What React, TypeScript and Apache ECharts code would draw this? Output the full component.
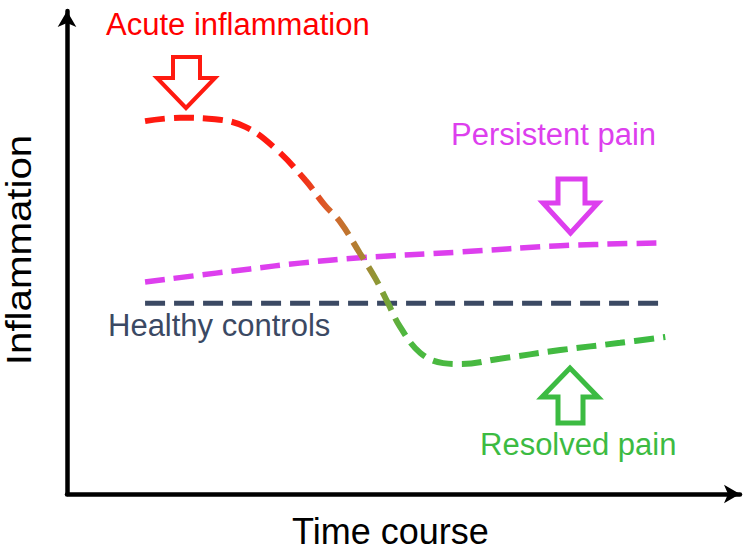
import React, { useEffect, useRef } from "react";
import * as echarts from "echarts";

// Time positions (0–100 scale) and inflammation levels (0–100 scale)
const acuteTime = [11.6, 16.8, 22.0, 26.5, 30.9, 35.4, 38.3, 40.6, 43.5, 45.8, 47.7, 49.5, 52.5, 55.9, 58.4, 64.3, 73.3, 82.2, 88.9];
const acuteLevel = [77.2, 77.9, 77.6, 76.0, 71.6, 65.0, 59.8, 56.3, 49.9, 44.7, 39.5, 34.6, 29.2, 27.1, 26.9, 28.0, 29.8, 31.3, 32.5];

const persistentTime = [11.6, 27.2, 34.6, 43.5, 58.4, 73.3, 88.9];
const persistentLevel = [43.9, 46.6, 47.8, 48.9, 50.1, 51.4, 52.0];

const healthyTime = [11.6, 88.9];
const healthyLevel = [39.5, 39.5];

const labels = {
  acute: "Acute inflammation",
  persistent: "Persistent pain",
  healthy: "Healthy controls",
  resolved: "Resolved pain",
  xName: "Time course",
  yName: "Inflammation",
};

const FONT = "'Liberation Sans', Arial, sans-serif";
const RED = "#ff1a10";
const PINK = "#dd3fee";
const SLATE = "#3b4963";
const GREEN = "#3cbb42";

const pair = (xs: number[], ys: number[]) => xs.map((x, i) => [x, ys[i]]);

export default function App() {
  const ref = useRef<HTMLDivElement>(null);
  useEffect(() => {
    if (!ref.current) return;
    const chart = echarts.init(ref.current, undefined, { renderer: "svg" });
    const dash = [20, 9];
    const arrowDown = (x0: number, x1: number, top: number, headTop: number, hx0: number, hx1: number, tipY: number) => [
      [x0, top], [x1, top], [x1, headTop], [hx1, headTop], [(hx0 + hx1) / 2, tipY], [hx0, headTop], [x0, headTop],
    ];
    const arrowUp = (x0: number, x1: number, bottom: number, headBot: number, hx0: number, hx1: number, tipY: number) => [
      [x0, bottom], [x1, bottom], [x1, headBot], [hx1, headBot], [(hx0 + hx1) / 2, tipY], [hx0, headBot], [x0, headBot],
    ];
    chart.setOption({
      animation: false,
      backgroundColor: "#ffffff",
      grid: { left: 67, right: 10, top: 11, bottom: 57 },
      xAxis: {
        type: "value", min: 0, max: 100,
        axisLine: { show: true, symbol: ["none", "arrow"], symbolSize: [14, 16], lineStyle: { color: "#000", width: 4.5 } },
        axisTick: { show: false }, axisLabel: { show: false }, splitLine: { show: false },
      },
      yAxis: {
        type: "value", min: 0, max: 100,
        axisLine: { show: true, symbol: ["none", "arrow"], symbolSize: [14, 16], lineStyle: { color: "#000", width: 4.5 } },
        axisTick: { show: false }, axisLabel: { show: false }, splitLine: { show: false },
      },
      series: [
        {
          type: "line", data: pair(healthyTime, healthyLevel), showSymbol: false,
          lineStyle: { color: SLATE, width: 5, type: dash },
        },
        {
          type: "line", data: pair(persistentTime, persistentLevel), showSymbol: false, smooth: 0.4,
          lineStyle: { color: PINK, width: 5.5, type: dash },
        },
        {
          type: "line", data: pair(acuteTime, acuteLevel), showSymbol: false, smooth: 0.4,
          lineStyle: {
            width: 6, type: dash,
            color: new echarts.graphic.LinearGradient(0, 0, 1, 0, [
              { offset: 0, color: RED },
              { offset: 0.28, color: RED },
              { offset: 0.36, color: "#d4662b" },
              { offset: 0.41, color: "#b08032" },
              { offset: 0.45, color: "#8a9a35" },
              { offset: 0.5, color: "#4cb840" },
              { offset: 1, color: GREEN },
            ]),
          },
        },
      ],
      graphic: [
        { type: "polygon", shape: { points: arrowDown(173, 200, 57, 78, 157, 215, 108) }, style: { fill: "#fff", stroke: RED, lineWidth: 4 } },
        { type: "polygon", shape: { points: arrowDown(558, 585, 179, 203, 543, 598, 233) }, style: { fill: "#fff", stroke: PINK, lineWidth: 5 } },
        { type: "polygon", shape: { points: arrowUp(558, 583, 423, 397, 542, 598, 368) }, style: { fill: "#fff", stroke: GREEN, lineWidth: 5 } },
        { type: "text", x: 106, y: 24, style: { text: labels.acute, fill: "#ff0000", fontSize: 31, fontFamily: FONT, textAlign: "left", textVerticalAlign: "middle" } },
        { type: "text", x: 451, y: 134, style: { text: labels.persistent, fill: PINK, fontSize: 31, fontFamily: FONT, textAlign: "left", textVerticalAlign: "middle" } },
        { type: "text", x: 108, y: 325, style: { text: labels.healthy, fill: SLATE, fontSize: 31, fontFamily: FONT, textAlign: "left", textVerticalAlign: "middle" } },
        { type: "text", x: 480, y: 444, style: { text: labels.resolved, fill: GREEN, fontSize: 31, fontFamily: FONT, textAlign: "left", textVerticalAlign: "middle" } },
        { type: "text", x: 292, y: 531, style: { text: labels.xName, fill: "#000", fontSize: 36, fontFamily: FONT, textAlign: "left", textVerticalAlign: "middle" } },
        { type: "text", x: 19, y: 250, rotation: Math.PI / 2, scaleX: 1.15, style: { text: labels.yName, fill: "#000", fontSize: 35, fontFamily: FONT, textAlign: "center", textVerticalAlign: "middle" } },
      ],
    });
    return () => chart.dispose();
  }, []);
  return <div ref={ref} style={{ width: 750, height: 551, position: "absolute", left: 0, top: 0 }} />;
}
